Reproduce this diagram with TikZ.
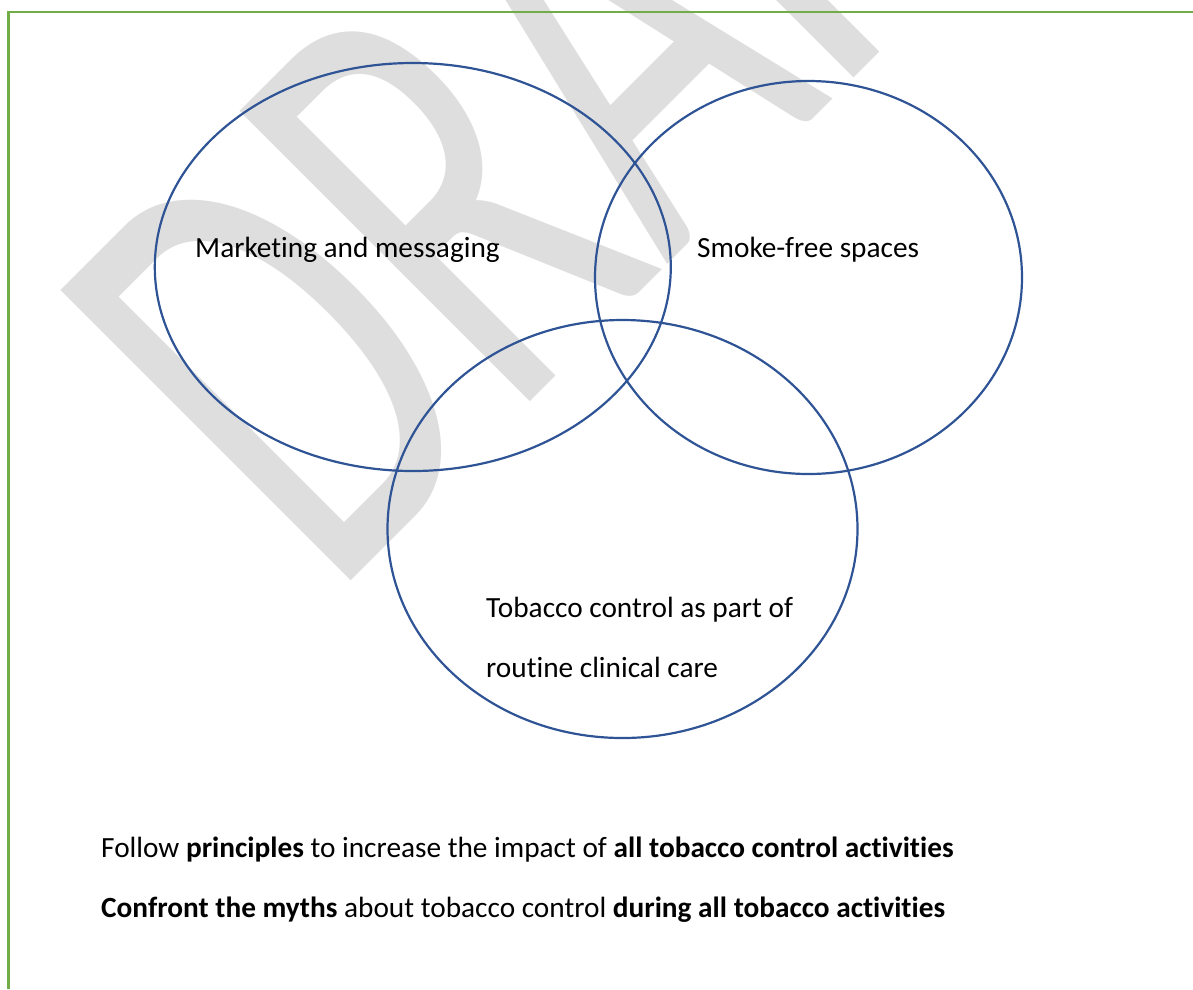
\documentclass[tikz,border=0pt]{standalone}
\usepackage{fontspec}
\setmainfont{Carlito}[Ligatures=NoCommon]
\usetikzlibrary{shapes.geometric}
\definecolor{venn}{HTML}{2F5496}
\definecolor{framegreen}{HTML}{70AD47}
\definecolor{wmark}{HTML}{DEDEDE}
\tikzset{
  vennring/.style={draw=venn, line width=2.2pt, ellipse, inner sep=0pt},
  txt/.style={anchor=base west, inner sep=0pt, font=\fontsize{29.3}{35}\selectfont},
  border/.style={draw=framegreen, line width=2.2pt}
}
\begin{document}
\begin{tikzpicture}[x=1pt,y=-1pt]
  \useasboundingbox (0,0) rectangle (1193,989);
  \begin{scope}
    \clip (0,0) rectangle (1193,989);
    \node[text=wmark, rotate=45, xscale=0.64, anchor=base west, inner sep=0pt,
      font=\fontsize{640}{640}\selectfont] (draft) at (331,601) {DRAFT};
  \end{scope}
  \coordinate (tl) at (8.5,12.2);
  \coordinate (tr) at (1193,12.2);
  \coordinate (bl) at (8.5,989);
  \draw[border] (tr) -- (tl) -- (bl);
  \node[vennring, minimum width=516pt, minimum height=408pt] (mkt) at (412.8,267) {};
  \node[vennring, minimum width=427pt, minimum height=393pt] (smoke) at (808.5,277.5) {};
  \node[vennring, minimum width=470pt, minimum height=418pt] (care) at (622.5,529) {};
  \node[txt] (mkttext) at (195,257) {Marketing and messaging};
  \node[txt] (smoketext) at (697,257) {Smoke-free spaces};
  \node[txt] (caretext) at (486,617) {Tobacco control as part of};
  \node[txt] (caretextb) at (486,677) {routine clinical care};
  \node[txt] (follow) at (101,857) {Follow \textbf{principles} to increase the impact of \textbf{all tobacco control activities}};
  \node[txt] (myths) at (101,917) {\textbf{Confront the myths} about tobacco control \textbf{during all tobacco activities}};
\end{tikzpicture}
\end{document}
